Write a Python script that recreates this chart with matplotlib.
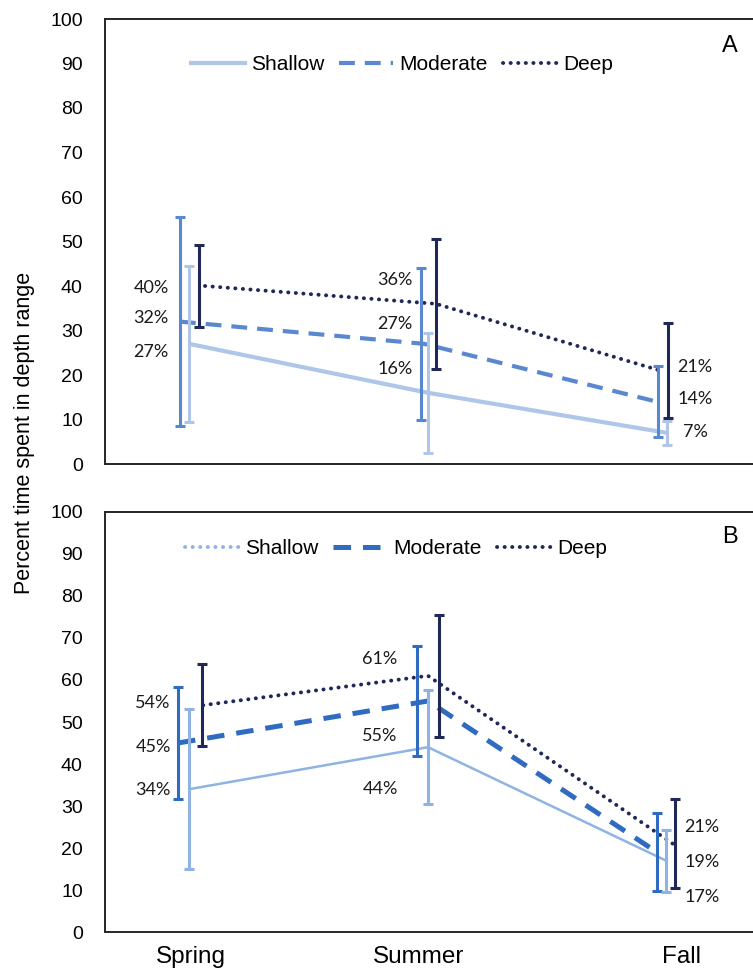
import matplotlib
matplotlib.use('Agg')
import matplotlib.pyplot as plt
from matplotlib.lines import Line2D

# ---- data ----
seasons = ['Spring', 'Summer', 'Fall']
season_ticks = [1.01, 1.96, 3.06]

# Panel A
a_shallow = [27, 16, 7]
a_shallow_err = [17.5, 13.5, 2.7]
a_moderate = [32, 27, 14]
a_moderate_err = [23.4, 17, 8]
a_deep = [40, 36, 21]
a_deep_err = [9.2, 14.6, 10.7]

# Panel B
b_shallow = [34, 44, 17]
b_shallow_err = [19, 13.6, 7.4]
b_moderate = [45, 55, 19]
b_moderate_err = [13.3, 13.2, 9.3]
b_deep = [54, 61, 21]
b_deep_err = [9.7, 14.5, 10.6]

# x positions (scatter x values) of the error bars and line vertices
a_shallow_x = [1.00, 2.00, 3.00]
a_moderate_x = [0.962, 1.969, 2.964]
a_moderate_lx = [0.962, 1.983, 2.958]
a_deep_x = [1.041, 2.033, 3.004]
a_deep_lx = [1.067, 2.033, 2.971]

b_shallow_x = [1.00, 2.00, 2.996]
b_moderate_x = [0.955, 1.955, 2.957]
b_moderate_lx = [0.954, 2.00, 2.958]
b_deep_x = [1.053, 2.046, 3.035]
b_deep_lx = [1.059, 2.00, 3.025]

# label offsets in pixels (dx per season, dy per series/season)
a_lab_dx = [-38, -33, 28]
a_lab_dy = {'shallow': [-8, 24, 1], 'moderate': [4, 20, 3], 'deep': [-2, 24, 4]}
b_lab_dx = [-36, -48, 36]
b_lab_dy = {'shallow': [-1, -42, -36], 'moderate': [-4, -35, -10], 'deep': [2, 17, 17]}

navy = '#1f2857'
a_light = '#afc6e8'
a_mid = '#5a88d0'
b_light = '#8fb3e2'
b_mid = '#2f6bc1'

plt.rcParams['font.family'] = ['Liberation Sans', 'DejaVu Sans']

fig = plt.figure(figsize=(7.53, 9.72), dpi=100)
W, H = 753.0, 972.0
axA = fig.add_axes([105 / W, 1 - 464 / H, 648 / W, 445 / H])
axB = fig.add_axes([105 / W, 1 - 932 / H, 648 / W, 420 / H])

dot = (0, (0.05, 1.9))
dot_lw = 2.8


def panel(ax, sh, sh_e, sh_x, sh_lx, mo, mo_e, mo_x, mo_lx, de, de_e, de_x, de_lx,
          c_sh, c_mo, sh_lw, mo_lw, mo_dash, lab_dx, lab_dy, letter, leg_sh_ls, leg_pos):
    ax.plot(sh_lx, sh, color=c_sh, lw=sh_lw, ls='-', solid_capstyle='butt', zorder=2)
    ax.plot(mo_lx, mo, color=c_mo, lw=mo_lw, ls=(0, mo_dash), dash_capstyle='butt', zorder=2)
    ax.plot(de_lx, de, color=navy, lw=dot_lw, ls=dot, dash_capstyle='round', zorder=3)
    ax.errorbar(mo_x, mo, yerr=mo_e, fmt='none', ecolor=c_mo, elinewidth=2.2, capsize=3.5, capthick=2.2, zorder=4)
    ax.errorbar(sh_x, sh, yerr=sh_e, fmt='none', ecolor=c_sh, elinewidth=2.2, capsize=3.5, capthick=2.2, zorder=4)
    ax.errorbar(de_x, de, yerr=de_e, fmt='none', ecolor=navy, elinewidth=2.2, capsize=3.5, capthick=2.2, zorder=5)

    for name, vals in [('shallow', sh), ('moderate', mo), ('deep', de)]:
        for i, v in enumerate(vals):
            ax.annotate('%d%%' % v, xy=(sh_x[i], v), xytext=(lab_dx[i], lab_dy[name][i]),
                        textcoords='offset pixels', ha='center', va='center',
                        fontsize=13, family=['Lato', 'DejaVu Sans'], color='#1a1a1a')

    ax.set_xlim(0.6485, 3.36)
    ax.set_ylim(0, 100)
    ax.set_yticks(range(0, 101, 10))
    ax.tick_params(axis='y', length=0, pad=16, labelsize=14)
    ax.tick_params(axis='x', length=0)
    ax.spines['right'].set_visible(False)
    for s in ['left', 'top', 'bottom']:
        ax.spines[s].set_linewidth(1.4)
        ax.spines[s].set_color('#262626')

    handles = [Line2D([], [], color=c_sh, lw=sh_lw if leg_sh_ls == '-' else dot_lw,
                      ls=leg_sh_ls, dash_capstyle='round'),
               Line2D([], [], color=c_mo, lw=mo_lw, ls=(0, mo_dash), dash_capstyle='butt'),
               Line2D([], [], color=navy, lw=dot_lw, ls=dot, dash_capstyle='round')]
    ax.legend(handles, ['Shallow', 'Moderate', 'Deep'], loc='center', bbox_to_anchor=leg_pos,
              ncol=3, frameon=False, fontsize=15, handlelength=2.6, handletextpad=0.3,
              columnspacing=0.7)
    ax.text(0.965, 0.94, letter, transform=ax.transAxes, fontsize=17, ha='center', va='center')


panel(axA, a_shallow, a_shallow_err, a_shallow_x, a_shallow_x,
      a_moderate, a_moderate_err, a_moderate_x, a_moderate_lx,
      a_deep, a_deep_err, a_deep_x, a_deep_lx,
      a_light, a_mid, 3.0, 3.0, (3.8, 2.4), a_lab_dx, a_lab_dy, 'A', '-', (0.458, 0.897))
axA.set_xticks([])

panel(axB, b_shallow, b_shallow_err, b_shallow_x, b_shallow_x,
      b_moderate, b_moderate_err, b_moderate_x, b_moderate_lx,
      b_deep, b_deep_err, b_deep_x, b_deep_lx,
      b_light, b_mid, 1.8, 3.6, (3.5, 2.4), b_lab_dx, b_lab_dy, 'B', dot, (0.449, 0.912))
axB.set_xticks(season_ticks)
axB.set_xticklabels(seasons, fontsize=17.5)
axB.tick_params(axis='x', pad=10)

fig.text(25 / W, 1 - 433 / H, 'Percent time spent in depth range', rotation=90,
         ha='center', va='center', fontsize=15.5)

fig.savefig('out.png', dpi=100)
